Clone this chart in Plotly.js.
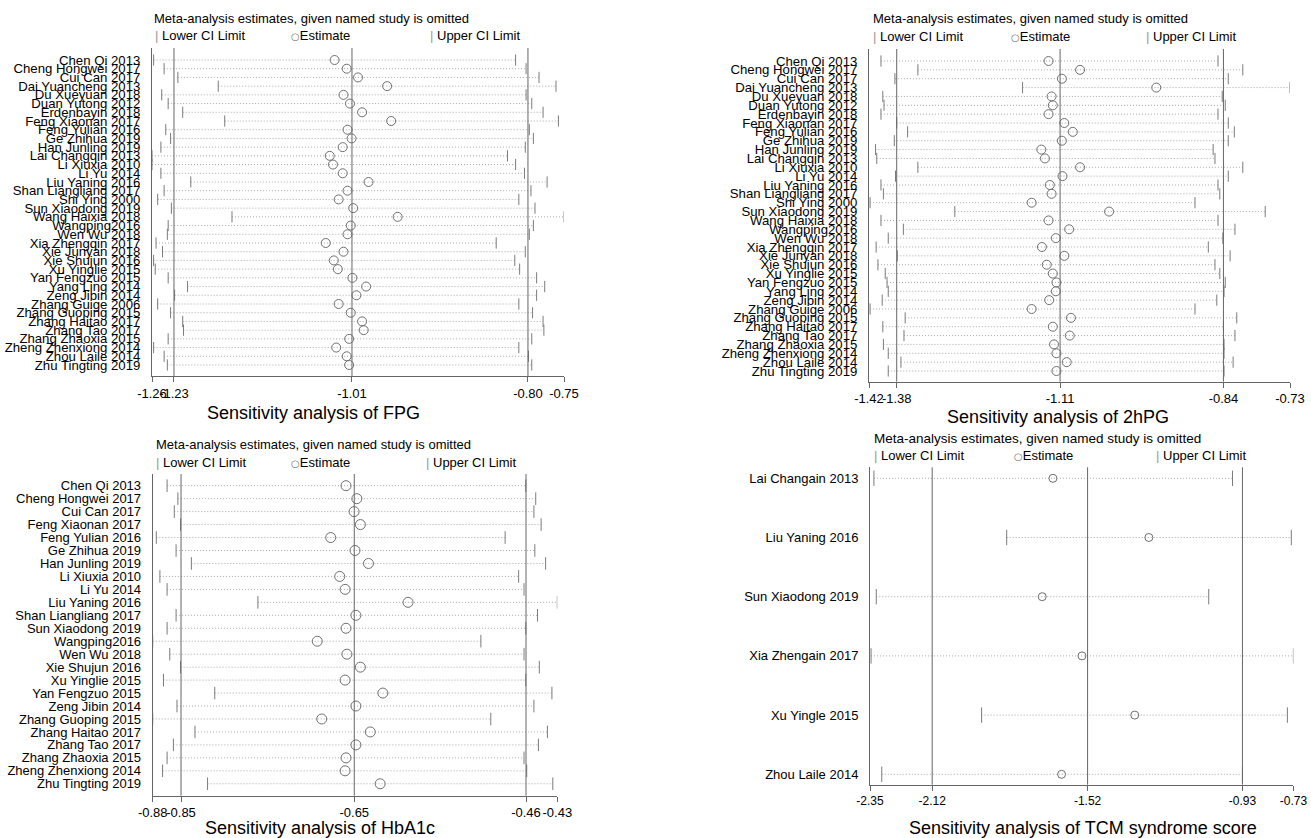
<!DOCTYPE html>
<html><head><meta charset="utf-8">
<script src="https://cdn.plot.ly/plotly-3.0.1.min.js"></script>
<style>html,body{margin:0;padding:0;background:#fff}#chart{width:1311px;height:838px}</style>
</head><body><div id="chart"></div>
<script>
// ---------------- DATA ----------------
const fpgStudies = ["Chen Qi 2013","Cheng Hongwei 2017","Cui Can 2017","Dai Yuancheng 2013","Du Xueyuan 2018","Duan Yutong 2012","Erdenbayin 2018","Feng Xiaonan 2017","Feng Yulian 2016","Ge Zhihua 2019","Han Junling 2019","Lai Changqin 2013","Li Xiuxia 2010","Li Yu 2014","Liu Yaning 2016","Shan Liangliang 2017","Shi Ying 2000","Sun Xiaodong 2019","Wang Haixia 2018","Wangping2016","Wen Wu 2018","Xia Zhengqin 2017","Xie Junyan 2018","Xie Shujun 2016","Xu Yinglie 2015","Yan Fengzuo 2015","Yang Ling 2014","Zeng Jibin 2014","Zhang Guige 2006","Zhang Guoping 2015","Zhang Haitao 2017","Zhang Tao 2017","Zhang Zhaoxia 2015","Zheng Zhenxiong 2014","Zhou Laile 2014","Zhu Tingting 2019"];
const fpgLower = [-1.258,-1.245,-1.228,-1.178,-1.248,-1.240,-1.222,-1.170,-1.243,-1.237,-1.249,-1.260,-1.260,-1.249,-1.212,-1.245,-1.253,-1.236,-1.161,-1.240,-1.241,-1.255,-1.247,-1.258,-1.256,-1.240,-1.216,-1.232,-1.253,-1.237,-1.222,-1.221,-1.240,-1.258,-1.245,-1.241];
const fpgEstimate = [-1.034,-1.019,-1.005,-0.969,-1.023,-1.015,-1.000,-0.964,-1.018,-1.013,-1.024,-1.040,-1.036,-1.024,-0.992,-1.018,-1.029,-1.011,-0.956,-1.014,-1.018,-1.045,-1.023,-1.035,-1.030,-1.012,-0.995,-1.007,-1.029,-1.014,-1.000,-0.998,-1.016,-1.032,-1.019,-1.016];
const fpgUpper = [-0.810,-0.797,-0.781,-0.760,-0.797,-0.790,-0.776,-0.757,-0.793,-0.788,-0.798,-0.820,-0.810,-0.799,-0.771,-0.791,-0.806,-0.786,-0.750,-0.788,-0.793,-0.834,-0.798,-0.811,-0.805,-0.784,-0.774,-0.784,-0.806,-0.789,-0.776,-0.775,-0.790,-0.806,-0.794,-0.790];
const fpgTickVals = [-1.26,-1.2328,-1.0125,-0.7947,-0.7501];
const fpgTickText = ["-1.26","-1.23","-1.01","-0.80","-0.75"];

const hpgStudies = ["Chen Qi 2013","Cheng Hongwei 2017","Cui Can 2017","Dai Yuancheng 2013","Du Xueyuan 2018","Duan Yutong 2012","Erdenbayin 2018","Feng Xiaonan 2017","Feng Yulian 2016","Ge Zhihua 2019","Han Junling 2019","Lai Changqin 2013","Li Xiuxia 2010","Li Yu 2014","Liu Yaning 2016","Shan Liangliang 2017","Shi Ying 2000","Sun Xiaodong 2019","Wang Haixia 2018","Wangping2016","Wen Wu 2018","Xia Zhengqin 2017","Xie Junyan 2018","Xie Shujun 2016","Xu Yinglie 2015","Yan Fengzuo 2015","Yang Ling 2014","Zeng Jibin 2014","Zhang Guige 2006","Zhang Guoping 2015","Zhang Haitao 2017","Zhang Tao 2017","Zhang Zhaoxia 2015","Zheng Zhenxiong 2014","Zhou Laile 2014","Zhu Tingting 2019"];
const hpgLower = [-1.406,-1.345,-1.383,-1.172,-1.403,-1.401,-1.406,-1.380,-1.362,-1.384,-1.415,-1.413,-1.345,-1.382,-1.406,-1.402,-1.424,-1.284,-1.406,-1.369,-1.394,-1.414,-1.379,-1.411,-1.399,-1.396,-1.394,-1.404,-1.424,-1.366,-1.403,-1.368,-1.402,-1.394,-1.373,-1.394];
const hpgEstimate = [-1.129,-1.077,-1.107,-0.951,-1.124,-1.122,-1.129,-1.103,-1.089,-1.107,-1.141,-1.135,-1.077,-1.106,-1.127,-1.124,-1.157,-1.029,-1.129,-1.095,-1.117,-1.140,-1.103,-1.132,-1.122,-1.116,-1.117,-1.128,-1.157,-1.092,-1.122,-1.094,-1.120,-1.116,-1.099,-1.116];
const hpgUpper = [-0.849,-0.808,-0.832,-0.730,-0.842,-0.837,-0.849,-0.832,-0.822,-0.832,-0.857,-0.854,-0.808,-0.832,-0.849,-0.846,-0.887,-0.771,-0.849,-0.821,-0.841,-0.865,-0.829,-0.854,-0.846,-0.837,-0.839,-0.851,-0.887,-0.818,-0.840,-0.821,-0.839,-0.839,-0.824,-0.839];
const hpgTickVals = [-1.4258,-1.38,-1.11,-0.84,-0.730];
const hpgTickText = ["-1.42","-1.38","-1.11","-0.84","-0.73"];

const hbaStudies = ["Chen Qi 2013","Cheng Hongwei 2017","Cui Can 2017","Feng Xiaonan 2017","Feng Yulian 2016","Ge Zhihua 2019","Han Junling 2019","Li Xiuxia 2010","Li Yu 2014","Liu Yaning 2016","Shan Liangliang 2017","Sun Xiaodong 2019","Wangping2016","Wen Wu 2018","Xie Shujun 2016","Xu Yinglie 2015","Yan Fengzuo 2015","Zeng Jibin 2014","Zhang Guoping 2015","Zhang Haitao 2017","Zhang Tao 2017","Zhang Zhaoxia 2015","Zheng Zhenxiong 2014","Zhu Tingting 2019"];
const hbaLower = [-0.864,-0.852,-0.856,-0.849,-0.876,-0.854,-0.837,-0.872,-0.864,-0.763,-0.854,-0.864,-0.880,-0.861,-0.849,-0.868,-0.811,-0.853,-0.880,-0.833,-0.857,-0.864,-0.869,-0.819];
const hbaEstimate = [-0.665,-0.653,-0.656,-0.649,-0.682,-0.655,-0.640,-0.672,-0.666,-0.596,-0.654,-0.665,-0.697,-0.664,-0.649,-0.666,-0.624,-0.654,-0.692,-0.638,-0.654,-0.665,-0.666,-0.627];
const hbaUpper = [-0.465,-0.454,-0.456,-0.448,-0.488,-0.455,-0.443,-0.473,-0.467,-0.430,-0.452,-0.465,-0.515,-0.467,-0.450,-0.465,-0.436,-0.456,-0.504,-0.441,-0.451,-0.467,-0.464,-0.435];
const hbaTickVals = [-0.88,-0.8485,-0.6558,-0.4648,-0.43];
const hbaTickText = ["-0.88","-0.85","-0.65","-0.46","-0.43"];

const tcmStudies = ["Lai Changain 2013","Liu Yaning 2016","Sun Xiaodong 2019","Xia Zhengain 2017","Xu Yingle 2015","Zhou Laile 2014"];
const tcmLower = [-2.335,-1.827,-2.326,-2.346,-1.923,-2.305];
const tcmEstimate = [-1.650,-1.283,-1.691,-1.539,-1.337,-1.617];
const tcmUpper = [-0.963,-0.738,-1.054,-0.730,-0.753,-0.925];
const tcmTickVals = [-2.35,-2.112,-1.5175,-0.925,-0.73];
const tcmTickText = ["-2.35","-2.12","-1.52","-0.93","-0.73"];

const panelTitles = ["Sensitivity analysis of FPG","Sensitivity analysis of 2hPG","Sensitivity analysis of HbA1c","Sensitivity analysis of TCM syndrome score"];
const headerText = "Meta-analysis estimates, given named study is omitted";

// ---------------- LAYOUT HELPERS ----------------
const W = 1311, H = 838;
const FONT = "Liberation Sans, Arial, Helvetica, sans-serif";
const fx = p => p / W;
const fy = p => 1 - p / H;

const panels = [
  {names: fpgStudies, lo: fpgLower, est: fpgEstimate, hi: fpgUpper, tv: fpgTickVals, tt: fpgTickText,
   px: [152, 564], py: [48, 376], row0: 60, rowStep: 8.714, lab: 13.2, cap: 8, circ: 9, tick: 13,
   head: {x: 152, y: 18, s: 13}, leg: {y: 35, l: 153, e: 289, u: 428}, title: {x: 313, y: 413}},
  {names: hpgStudies, lo: hpgLower, est: hpgEstimate, hi: hpgUpper, tv: hpgTickVals, tt: hpgTickText,
   px: [869, 1290], py: [49, 381.7], row0: 61, rowStep: 8.857, lab: 13.2, cap: 8, circ: 9, tick: 13,
   head: {x: 871, y: 18, s: 13}, leg: {y: 36, l: 871, e: 1009, u: 1144}, title: {x: 1058, y: 417}},
  {names: hbaStudies, lo: hbaLower, est: hbaEstimate, hi: hbaUpper, tv: hbaTickVals, tt: hbaTickText,
   px: [152.7, 557.3], py: [474, 795.7], row0: 485.7, rowStep: 12.96, lab: 13, cap: 9, circ: 10, tick: 13,
   head: {x: 154, y: 444, s: 13}, leg: {y: 462, l: 154, e: 289, u: 424}, title: {x: 320, y: 828}},
  {names: tcmStudies, lo: tcmLower, est: tcmEstimate, hi: tcmUpper, tv: tcmTickVals, tt: tcmTickText,
   px: [870, 1293.4], py: [467.3, 784.7], row0: 478.3, rowStep: 59.2, lab: 13, cap: 11, circ: 8, tick: 12,
   head: {x: 872, y: 438, s: 13.5}, leg: {y: 455, l: 872, e: 1012, u: 1154}, title: {x: 1083, y: 828}}
];

const traces = [];
const layout = {
  width: W, height: H, margin: {l: 0, r: 0, t: 0, b: 0},
  paper_bgcolor: "#fff", plot_bgcolor: "#fff", showlegend: false,
  font: {family: FONT, color: "#000"},
  shapes: [], annotations: []
};

panels.forEach((p, k) => {
  const n = k === 0 ? "" : String(k + 1);
  const xa = "x" + n, ya = "y" + n;
  const idx = p.names.map((_, i) => i);
  // CI dotted lines
  const lx = [], ly = [];
  idx.forEach(i => { lx.push(p.lo[i], p.hi[i], null); ly.push(i, i, null); });
  traces.push({type: "scatter", mode: "lines", x: lx, y: ly, xaxis: xa, yaxis: ya,
    line: {color: "#a8a8a8", width: 1, dash: "1px,2px"}, hoverinfo: "skip"});
  // caps
  [p.lo, p.hi].forEach(arr => traces.push({type: "scatter", mode: "markers", x: arr, y: idx, xaxis: xa, yaxis: ya,
    marker: {symbol: "line-ns-open", size: p.cap, color: "#7c7c7c", line: {color: "#7c7c7c", width: 1}}}));
  // estimates
  traces.push({type: "scatter", mode: "markers", x: p.est, y: idx, xaxis: xa, yaxis: ya,
    marker: {symbol: "circle-open", size: p.circ, color: "#6f6f6f", line: {color: "#6f6f6f", width: 1}}});

  const top = (p.py[0] - p.row0) / p.rowStep;
  const bot = (p.py[1] - p.row0) / p.rowStep;
  layout["xaxis" + n] = {
    domain: [fx(p.px[0]), fx(p.px[1])], anchor: ya,
    range: [p.tv[0], p.tv[p.tv.length - 1]], autorange: false,
    tickmode: "array", tickvals: p.tv, ticktext: p.tt, tickangle: 0,
    ticks: "outside", ticklen: 5, tickcolor: "#666", tickwidth: 1,
    showline: true, linecolor: "#666", linewidth: 1,
    showgrid: false, zeroline: false,
    tickfont: {size: p.tick, color: "#000", family: FONT}
  };
  layout["yaxis" + n] = {
    domain: [fy(p.py[1]), fy(p.py[0])], anchor: xa,
    range: [bot, top], autorange: false,
    tickmode: "array", tickvals: idx, ticktext: p.names,
    ticks: "", ticklabelstandoff: 8,
    showline: true, linecolor: "#666", linewidth: 1,
    showgrid: false, zeroline: false,
    tickfont: {size: p.lab, color: "#000", family: FONT}
  };
  // reference lines at the inner tick values
  p.tv.slice(1, p.tv.length - 1).forEach(v => layout.shapes.push({
    type: "line", xref: xa, yref: ya + " domain", x0: v, x1: v, y0: 0, y1: 1,
    line: {color: "#666", width: 1}}));

  // header, legend, title
  layout.annotations.push({xref: "paper", yref: "paper", x: fx(p.head.x), y: fy(p.head.y), xanchor: "left", yanchor: "middle",
    text: headerText, showarrow: false, font: {size: p.head.s, color: "#000", family: FONT}});
  layout.annotations.push({xref: "paper", yref: "paper", x: fx(p.leg.l), y: fy(p.leg.y), xanchor: "left", yanchor: "middle",
    text: "<span style='color:#999'>|</span> Lower CI Limit", showarrow: false, font: {size: 13, color: "#000", family: FONT}});
  layout.annotations.push({xref: "paper", yref: "paper", x: fx(p.leg.e), y: fy(p.leg.y), xanchor: "left", yanchor: "middle",
    text: "<span style='color:#777;font-family:DejaVu Sans;font-size:10px'>○</span>Estimate", showarrow: false, font: {size: 13, color: "#000", family: FONT}});
  layout.annotations.push({xref: "paper", yref: "paper", x: fx(p.leg.u), y: fy(p.leg.y), xanchor: "left", yanchor: "middle",
    text: "<span style='color:#999'>|</span> Upper CI Limit", showarrow: false, font: {size: 13, color: "#000", family: FONT}});
  layout.annotations.push({xref: "paper", yref: "paper", x: fx(p.title.x), y: fy(p.title.y), xanchor: "center", yanchor: "middle",
    text: panelTitles[k], showarrow: false, font: {size: 18, color: "#000", family: FONT}});
});

Plotly.newPlot("chart", traces, layout, {staticPlot: true, displayModeBar: false});
</script>
</body></html>
